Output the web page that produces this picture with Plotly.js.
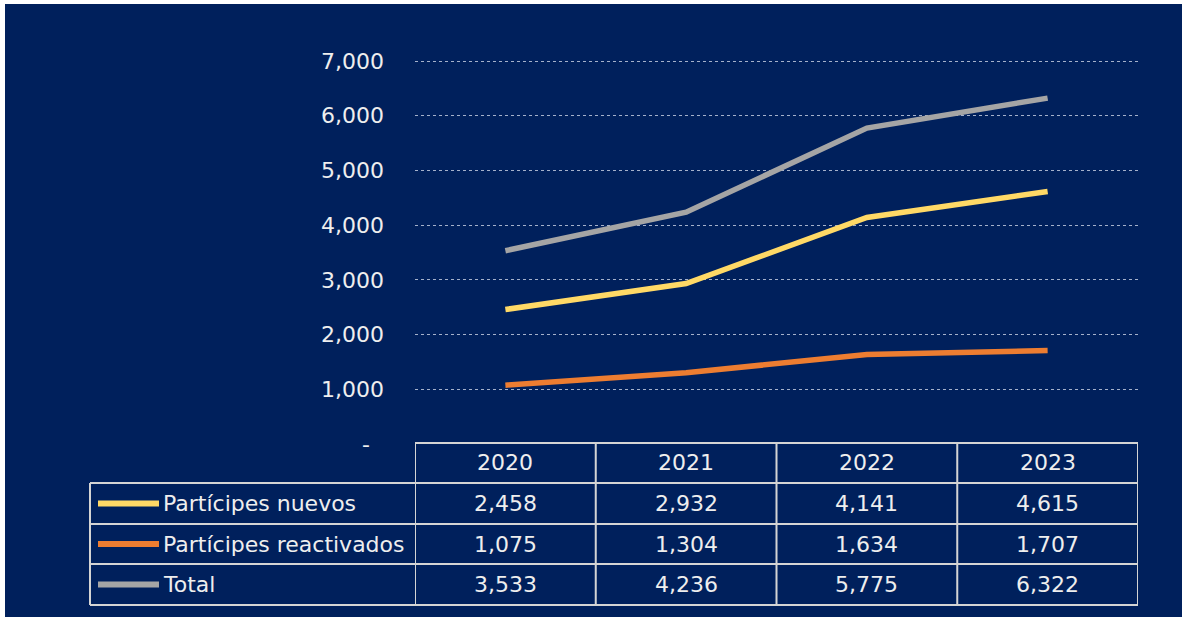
<!DOCTYPE html>
<html>
<head>
<meta charset="utf-8">
<script src="https://cdn.plot.ly/plotly-3.0.1.min.js"></script>
<style>
  html, body { margin: 0; padding: 0; background: #ffffff; }
  #chart { position: absolute; left: 5px; top: 4px; width: 1177px; height: 613px; }
</style>
</head>
<body>
<div id="chart"></div>
<script>
// ---- data ----
const years = ['2020', '2021', '2022', '2023'];
const seriesNames = ['Partícipes nuevos', 'Partícipes reactivados', 'Total'];
const nuevos = [2458, 2932, 4141, 4615];
const reactivados = [1075, 1304, 1634, 1707];
const total = [3533, 4236, 5775, 6322];
const yTickVals = [0, 1000, 2000, 3000, 4000, 5000, 6000, 7000];
const yTickText = ['-\u00a0\u00a0', '1,000', '2,000', '3,000', '4,000', '5,000', '6,000', '7,000'];

// ---- styles ----
const colors = ['#FFD966', '#ED7D31', '#A5A5A5'];
const bg = '#00205C';
const txt = '#EEEEEE';
const border = '#D4D4D4';
const fontFam = 'DejaVu Sans, sans-serif';
const fs = 22;

const seriesVals = [nuevos, reactivados, total];

// geometry helpers (plot area: x 415..1138, y 59..444 in page pixels)
const TOP = 59, BOT = 444, H = BOT - TOP;
const py = Y => (BOT - Y) / H;
const px = X => (X - 415) / 723;
const rowEdges = [443, 483, 524, 564, 605];
const labelLeft = 90;

const traces = seriesVals.map((v, i) => ({
  x: years, y: v, type: 'scatter', mode: 'lines', name: seriesNames[i],
  line: { color: colors[i], width: 5.5 }, hoverinfo: 'skip'
}));

const shapes = [];
const lineStyle = { color: border, width: 2 };
shapes.push({ type: 'line', xref: 'x', yref: 'paper', x0: -0.5, x1: years.length - 0.5, y0: py(rowEdges[0]), y1: py(rowEdges[0]), line: lineStyle });
for (let r = 1; r < rowEdges.length; r++) {
  shapes.push({ type: 'line', xref: 'paper', yref: 'paper', x0: px(labelLeft), x1: 1, y0: py(rowEdges[r]), y1: py(rowEdges[r]), line: lineStyle });
}
for (let c = 0; c <= years.length; c++) {
  shapes.push({ type: 'line', xref: 'x', yref: 'paper', x0: c - 0.5, x1: c - 0.5, y0: py(rowEdges[0]), y1: py(rowEdges[4]), line: lineStyle });
}
shapes.push({ type: 'line', xref: 'paper', yref: 'paper', x0: px(labelLeft), x1: px(labelLeft), y0: py(rowEdges[1]), y1: py(rowEdges[4]), line: lineStyle });

const annotations = [];
const mid = r => py((rowEdges[r] + rowEdges[r + 1]) / 2);
years.forEach((yr, c) => {
  annotations.push({ xref: 'x', yref: 'paper', x: c, y: mid(0), text: yr, showarrow: false,
    xanchor: 'center', yanchor: 'middle', font: { family: fontFam, size: fs, color: txt } });
});
seriesVals.forEach((vals, r) => {
  shapes.push({ type: 'line', xref: 'paper', yref: 'paper', x0: px(98), x1: px(159), y0: mid(r + 1), y1: mid(r + 1),
    line: { color: colors[r], width: 6 } });
  annotations.push({ xref: 'paper', yref: 'paper', x: px(161), y: mid(r + 1), text: seriesNames[r], showarrow: false,
    xanchor: 'left', yanchor: 'middle', font: { family: fontFam, size: fs, color: txt } });
  vals.forEach((v, c) => {
    annotations.push({ xref: 'x', yref: 'paper', x: c, y: mid(r + 1), text: v.toLocaleString('en-US'), showarrow: false,
      xanchor: 'center', yanchor: 'middle', font: { family: fontFam, size: fs, color: txt } });
  });
});

// y range extended slightly above 7000 so the top gridline is drawn (7000 at y=61)
const yMax = 7000 * (BOT - TOP) / (BOT - 61);

const layout = {
  width: 1177, height: 613,
  margin: { l: 410, r: 44, t: TOP - 4, b: 617 - BOT, pad: 0 },
  paper_bgcolor: bg, plot_bgcolor: bg,
  showlegend: false,
  xaxis: { type: 'category', range: [-0.5, years.length - 0.5], showticklabels: false, showgrid: false,
    zeroline: false, showline: false, ticks: '' },
  yaxis: { range: [0, yMax], tickvals: yTickVals, ticktext: yTickText, ticks: '', showline: false,
    zeroline: false, showgrid: true, gridcolor: 'rgba(220,225,240,0.75)', gridwidth: 1, griddash: 'dot',
    ticklabelstandoff: 30, tickfont: { family: fontFam, size: fs, color: txt } },
  shapes: shapes,
  annotations: annotations
};

Plotly.newPlot('chart', traces, layout, { staticPlot: true, displayModeBar: false });
</script>
</body>
</html>
